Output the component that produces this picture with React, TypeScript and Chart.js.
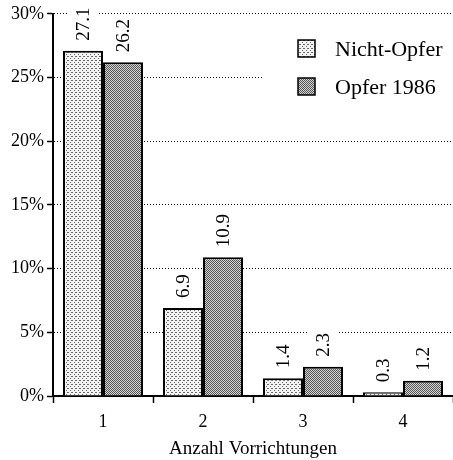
import React, { useEffect, useRef } from "react";
import { Chart, registerables } from "chart.js";

Chart.register(...registerables);

const categories = ["1", "2", "3", "4"];
const nichtOpfer = [27.1, 6.9, 1.4, 0.3];
const opfer1986 = [26.2, 10.9, 2.3, 1.2];
const seriesLabels = ["Nicht-Opfer", "Opfer 1986"];
const yTicks = [0, 5, 10, 15, 20, 25, 30];
const xTitle = "Anzahl Vorrichtungen";

const FONT = "'Liberation Serif', 'Times New Roman', serif";

function makePattern(base: string, dot: string, dots: number[][]): CanvasPattern | string {
  const c = document.createElement("canvas");
  c.width = 4;
  c.height = 4;
  const g = c.getContext("2d");
  if (!g) return base;
  g.fillStyle = base;
  g.fillRect(0, 0, 4, 4);
  g.fillStyle = dot;
  dots.forEach(([x, y]) => g.fillRect(x, y, 1, 1));
  const p = g.createPattern(c, "repeat");
  return p || base;
}

export default function App() {
  const ref = useRef<HTMLCanvasElement | null>(null);

  useEffect(() => {
    document.body.style.margin = "0";
    const canvas = ref.current;
    if (!canvas) return;
    const lightFill = makePattern("#f2f2f2", "#6a6a6a", [[0, 0], [2, 2], [3, 0]]);
    const darkFill = makePattern("#d4d4d4", "#555555", [[0, 0], [2, 0], [1, 1], [3, 1], [0, 2], [2, 2], [1, 3], [3, 3]]);
    const fills = [lightFill, darkFill];

    const valueLabels = {
      id: "valueLabels",
      afterDatasetsDraw(chart: any) {
        const ctx = chart.ctx;
        ctx.save();
        ctx.font = `19px ${FONT}`;
        chart.data.datasets.forEach((ds: any, di: number) => {
          const meta = chart.getDatasetMeta(di);
          meta.data.forEach((bar: any, i: number) => {
            const txt = Number(ds.data[i]).toFixed(1);
            const w = ctx.measureText(txt).width;
            ctx.save();
            ctx.translate(bar.x, bar.y - 10);
            ctx.rotate(-Math.PI / 2);
            ctx.fillStyle = "#ffffff";
            ctx.fillRect(-3, -15, w + 6, 30);
            ctx.fillStyle = "#000000";
            ctx.textAlign = "left";
            ctx.textBaseline = "middle";
            ctx.fillText(txt, 0, 1);
            ctx.restore();
          });
        });
        ctx.restore();
      },
    };

    const legendPlugin = {
      id: "customLegend",
      afterDraw(chart: any) {
        const ctx = chart.ctx;
        ctx.save();
        ctx.fillStyle = "#ffffff";
        ctx.fillRect(262, 28, chart.chartArea.right - 262, 84);
        ctx.font = `22px ${FONT}`;
        ctx.textBaseline = "middle";
        ctx.textAlign = "left";
        chart.data.datasets.forEach((ds: any, di: number) => {
          const y = 49 + di * 38;
          ctx.fillStyle = fills[di];
          ctx.fillRect(298, y - 9, 17, 17);
          ctx.strokeStyle = "#000";
          ctx.lineWidth = 1.5;
          ctx.strokeRect(298, y - 9, 17, 17);
          ctx.fillStyle = "#000";
          ctx.fillText(ds.label, 335, y + 1);
        });
        ctx.restore();
      },
    };

    const chart = new Chart(canvas, {
      type: "bar",
      data: {
        labels: categories,
        datasets: [
          {
            label: seriesLabels[0],
            data: nichtOpfer,
            backgroundColor: lightFill as any,
            borderColor: "#000",
            borderWidth: 2,
            categoryPercentage: 0.8,
            barPercentage: 1,
          },
          {
            label: seriesLabels[1],
            data: opfer1986,
            backgroundColor: darkFill as any,
            borderColor: "#000",
            borderWidth: 2,
            categoryPercentage: 0.8,
            barPercentage: 1,
          },
        ],
      },
      options: {
        responsive: false,
        animation: false,
        layout: { padding: { top: 13, right: 0, left: 0, bottom: 0 } },
        plugins: {
          legend: { display: false },
          tooltip: { enabled: false },
          title: { display: false },
        },
        scales: {
          x: {
            grid: {
              display: true,
              drawOnChartArea: false,
              offset: true,
              tickLength: 7,
              tickColor: "#000",
              tickWidth: 1.5,
            },
            border: { display: true, color: "#000", width: 2 },
            ticks: {
              color: "#000",
              font: { family: FONT, size: 18 },
              padding: 8,
            },
            title: {
              display: true,
              text: xTitle,
              color: "#000",
              font: { family: FONT, size: 19 },
              padding: { top: 0, bottom: 0 },
            },
            afterFit: (s: any) => {
              s.height = 64;
            },
          },
          y: {
            min: 0,
            max: 30,
            afterBuildTicks: (s: any) => {
              s.ticks = yTicks.map((v) => ({ value: v }));
            },
            grid: {
              color: "#000",
              lineWidth: 1,
              tickBorderDash: [],
              tickLength: 6,
              tickColor: "#000",
              tickWidth: 1.5,
            },
            border: { display: true, color: "#000", width: 2, dash: [1, 2] },
            ticks: {
              color: "#000",
              font: { family: FONT, size: 18 },
              padding: 3,
              callback: (v: any) => `${v}%`,
            },
            afterFit: (s: any) => {
              s.width = 53;
            },
          },
        },
      },
      plugins: [valueLabels, legendPlugin],
    });
    return () => chart.destroy();
  }, []);

  return <canvas ref={ref} width={453} height={460} style={{ display: "block" }} />;
}
